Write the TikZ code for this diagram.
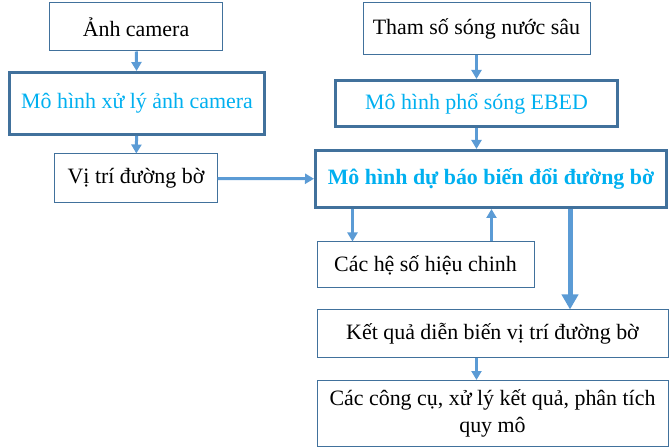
\documentclass[tikz,border=0pt]{standalone}
\usepackage{fontspec}
\setmainfont{Liberation Serif}
\usetikzlibrary{positioning,arrows.meta}

\definecolor{boxline}{HTML}{41719C}
\definecolor{arrowblue}{HTML}{5B9BD5}
\definecolor{textblue}{HTML}{00B0F0}

\tikzset{
  plainbox/.style={draw=boxline, line width=1bp, fill=white, align=center, font=\fontsize{22}{27}\selectfont, inner sep=2bp},
  modelbox/.style={plainbox, line width=3bp, text=textblue},
  flow/.style={draw=arrowblue, line width=3bp, -{Triangle[length=9bp,width=10bp]}},
  bigflow/.style={draw=arrowblue, line width=5bp, -{Triangle[length=15bp,width=16bp]}}
}

\begin{document}
\begin{tikzpicture}[x=1bp,y=-1bp]
	\useasboundingbox (0,0) rectangle (669,448);
	% left column
	\node[plainbox, minimum width=172bp, minimum height=48bp] (cam) at (136,27) {Ảnh camera};
	\node[modelbox, minimum width=255bp, minimum height=62bp] (camproc) at (137,103.5) {Mô hình xử lý ảnh camera};
	\node[plainbox, minimum width=162bp, minimum height=49bp] (shore) at (136,178.5) {Vị trí đường bờ};
	% right column
	\node[plainbox, minimum width=227bp, minimum height=52bp] (wave) at (476.5,29) {Tham số sóng nước sâu};
	\node[modelbox, minimum width=282bp, minimum height=46bp] (ebed) at (476.5,103.5) {Mô hình phổ sóng EBED};
	\node[modelbox, minimum width=351bp, minimum height=57bp, font=\fontsize{22}{27}\selectfont\bfseries] (main) at (491,179) {Mô hình dự báo biến đổi đường bờ};
	\node[plainbox, minimum width=217bp, minimum height=46bp] (coef) at (425.5,265) {Các hệ số hiệu chinh};
	\node[plainbox, minimum width=351bp, minimum height=47bp] (res) at (492.5,333.5) {Kết quả diễn biến vị trí đường bờ};
	\node[plainbox, minimum width=351bp, minimum height=66bp] (tools) at (492.5,413.5) {Các công cụ, xử lý kết quả, phân tích\\quy mô};

	\draw[flow] (cam) -- (camproc);
	\draw[flow] (camproc) -- (shore);
	\draw[flow] (shore) -- (main);
	\draw[flow] (wave) -- (ebed);
	\draw[flow] (ebed.south) -- (ebed.south |- main.north);
	\draw[flow] (main.south -| coef.west) ++(36,0) coordinate (c1) -- (c1 |- coef.north);
	\draw[flow] (coef.north) ++(66,0) coordinate (c2) -- (c2 |- main.south);
	\draw[bigflow] (main.south) ++(79,0) coordinate (c3) -- (c3 |- res.north);
	\draw[flow] (res.south -| tools.north) ++(-16,0) coordinate (c4) -- (c4 |- tools.north);
\end{tikzpicture}
\end{document}
